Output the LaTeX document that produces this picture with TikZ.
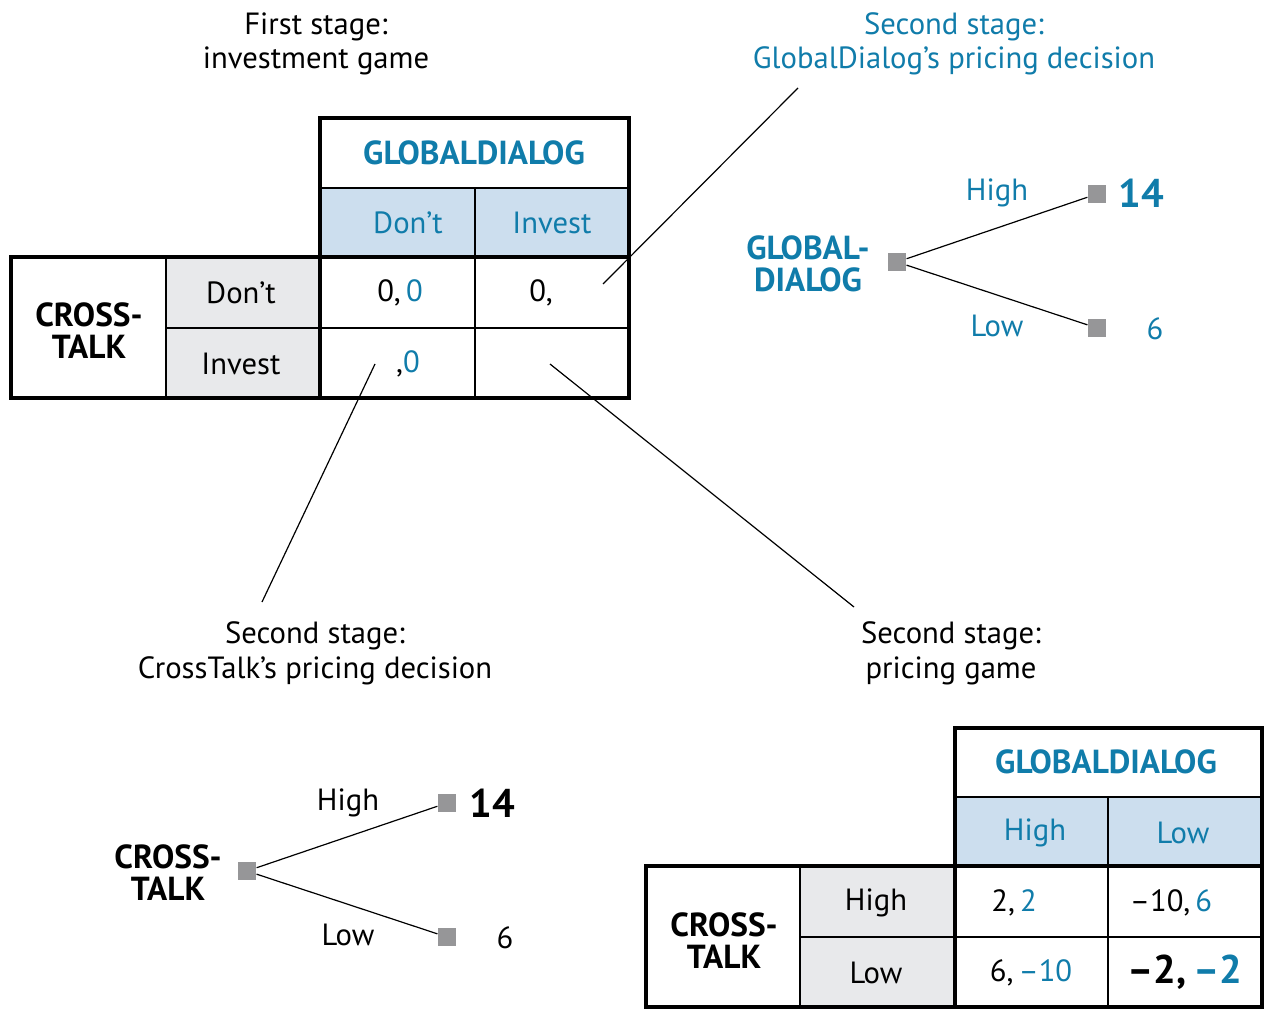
\documentclass[tikz,border=0pt]{standalone}
\usepackage{fontspec}
\setmainfont{PT Sans}
\definecolor{gblue}{RGB}{16,124,170}
\definecolor{hdrfill}{RGB}{204,222,238}
\definecolor{rowfill}{RGB}{232,233,235}
\definecolor{sqgray}{RGB}{150,150,152}
\tikzset{
  txt/.style={font=\fontsize{23}{26}\selectfont, inner sep=0pt, align=center},
  bld/.style={font=\fontsize{25}{24}\selectfont\bfseries, inner sep=0pt, align=center},
  big/.style={font=\fontsize{30}{30}\selectfont\bfseries, inner sep=0pt},
  sq/.style={fill=sqgray, minimum size=14pt, inner sep=0pt},
  thk/.style={line width=3pt, line join=miter},
  thn/.style={line width=1.1pt},
  conn/.style={line width=0.9pt},
}
\begin{document}
\begin{tikzpicture}[x=0.75pt,y=-0.75pt]
\useasboundingbox (0,0) rectangle (1275,1020);

% ---------- top table ----------
\fill[hdrfill] (320,188) rectangle (629,257);
\fill[rowfill] (166,257) rectangle (320,398);
\draw[thn] (320,188) -- (629,188);
\draw[thn] (475,188) -- (475,398);
\draw[thn] (166,328) -- (629,328);
\draw[thn] (166,257) -- (166,398);
\draw[thk] (320,118) -- (629,118) -- (629,398) -- (11,398) -- (11,257) -- (320,257) -- cycle;
\draw[thk] (320,257) -- (629,257);
\draw[thk] (320,257) -- (320,398);

\node[bld, text=gblue] (tgd) at (474,153) {GLOBALDIALOG};
\node[txt, text=gblue] (tdont) at (408,223) {Don’t};
\node[txt, text=gblue] (tinv) at (552,223) {Invest};
\node[bld] (tct) at (89,331) {CROSS-\\TALK};
\node[txt] (trdont) at (241,293) {Don’t};
\node[txt] (trinv) at (241,364) {Invest};
\node[txt] (c11) at (400,293) {0,\,\textcolor{gblue}{0}};
\node[txt] (c12) at (552,293) {0,\phantom{\,0}};
\node[txt] (c21) at (397,364) {\phantom{0\,},\textcolor{gblue}{0}};
\coordinate (c22) at (550,364);

% ---------- stage labels ----------
\node[txt] (lab1) at (316,44) {First stage:\\investment game};
\node[txt, text=gblue] (lab2) at (954,44) {Second stage:\\GlobalDialog’s pricing decision};
\node[txt] (lab3) at (315,653) {Second stage:\\CrossTalk’s pricing decision};
\node[txt] (lab4) at (951,653) {Second stage:\\pricing game};

% ---------- connectors ----------
\coordinate (e1a) at (603,284);
\coordinate (e1b) at (798,88);
\coordinate (e2a) at (375,364);
\coordinate (e2b) at (262,602);
\coordinate (e3b) at (854,607);
\draw[conn] (e1a) -- (e1b);
\draw[conn] (e2a) -- (e2b);
\draw[conn] (c22) -- (e3b);

% ---------- top-right tree ----------
\node[sq] (gr) at (897,262) {};
\node[sq] (gh) at (1097,194) {};
\node[sq] (gl) at (1097,328) {};
\draw[conn] (gr) -- (gh);
\draw[conn] (gr) -- (gl);
\node[bld, text=gblue] (gname) at (808,264) {GLOBAL-\\DIALOG};
\node[txt, text=gblue] (ghl) at (997,193) {High};
\node[txt, text=gblue] (gll) at (997,326) {Low};
\node[big, text=gblue] (g14) at (1141,193) {14};
\node[txt, text=gblue] (g6) at (1155,329) {6};

% ---------- bottom-left tree ----------
\node[sq] (cr) at (247,871) {};
\node[sq] (ch) at (447,803) {};
\node[sq] (cl) at (447,937) {};
\draw[conn] (cr) -- (ch);
\draw[conn] (cr) -- (cl);
\node[bld] (cname) at (168,873) {CROSS-\\TALK};
\node[txt] (chl) at (348,803) {High};
\node[txt] (cll) at (348,935) {Low};
\node[big] (c14) at (492,803) {14};
\node[txt] (c6) at (505,938) {6};

% ---------- bottom table ----------
\fill[hdrfill] (955,797) rectangle (1262,866);
\fill[rowfill] (800,866) rectangle (955,1007);
\draw[thn] (955,797) -- (1262,797);
\draw[thn] (1108,797) -- (1108,1007);
\draw[thn] (800,937) -- (1262,937);
\draw[thn] (800,866) -- (800,1007);
\draw[thk] (955,728) -- (1262,728) -- (1262,1007) -- (646,1007) -- (646,866) -- (955,866) -- cycle;
\draw[thk] (955,866) -- (1262,866);
\draw[thk] (955,866) -- (955,1007);

\node[bld, text=gblue] (bgd) at (1106,762) {GLOBALDIALOG};
\node[txt, text=gblue] (bhigh) at (1035,833) {High};
\node[txt, text=gblue] (blow) at (1183,833) {Low};
\node[bld] (bct) at (724,941) {CROSS-\\TALK};
\node[txt] (brhigh) at (876,903) {High};
\node[txt] (brlow) at (876,973) {Low};
\node[txt] (d11) at (1014,903) {2,\,\textcolor{gblue}{2}};
\node[txt] (d12) at (1171,903) {–10,\,\textcolor{gblue}{6}};
\node[txt] (d21) at (1031,973) {6,\,\textcolor{gblue}{–10}};
\node[big] (d22) at (1185,972) {–2,\,\textcolor{gblue}{–2}};
\end{tikzpicture}
\end{document}
